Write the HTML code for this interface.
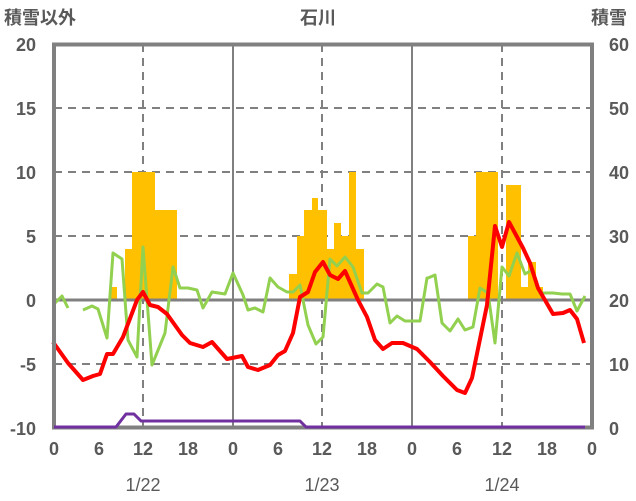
<!DOCTYPE html>
<html><head><meta charset="utf-8"><style>
html,body{margin:0;padding:0;background:#fff;}
svg{display:block;}
text{font-family:"Liberation Sans","Noto Sans CJK JP",sans-serif;fill:#595959;}
</style></head><body>
<svg width="636" height="501" viewBox="0 0 636 501" xmlns="http://www.w3.org/2000/svg">
<g stroke="#808080" stroke-width="2" stroke-dasharray="8,6" fill="none">
<line x1="54" y1="108" x2="592" y2="108"/>
<line x1="54" y1="172" x2="592" y2="172"/>
<line x1="54" y1="236" x2="592" y2="236"/>
<line x1="54" y1="364" x2="592" y2="364"/>
<line x1="143" y1="44" x2="143" y2="428"/>
<line x1="322" y1="44" x2="322" y2="428"/>
<line x1="502" y1="44" x2="502" y2="428"/>
</g>
<g fill="#FFC000">
<rect x="110" y="287" width="7" height="13"/>
<rect x="125" y="249" width="7" height="51"/>
<rect x="132" y="172" width="23" height="128"/>
<rect x="155" y="210" width="22" height="90"/>
<rect x="289" y="274" width="8" height="26"/>
<rect x="297" y="236" width="7" height="64"/>
<rect x="304" y="210" width="8" height="90"/>
<rect x="312" y="198" width="6" height="102"/>
<rect x="318" y="210" width="9" height="90"/>
<rect x="327" y="249" width="7" height="51"/>
<rect x="334" y="223" width="7" height="77"/>
<rect x="341" y="236" width="8" height="64"/>
<rect x="349" y="172" width="7" height="128"/>
<rect x="356" y="249" width="8" height="51"/>
<rect x="468" y="236" width="8" height="64"/>
<rect x="476" y="172" width="22" height="128"/>
<rect x="506" y="185" width="15" height="115"/>
<rect x="521" y="287" width="7" height="13"/>
<rect x="528" y="262" width="8" height="38"/>
<rect x="536" y="287" width="7" height="13"/>
</g>
<g stroke="#808080" fill="none">
<line x1="233" y1="44" x2="233" y2="428" stroke-width="2"/>
<line x1="412" y1="44" x2="412" y2="428" stroke-width="2"/>
<line x1="54" y1="300" x2="592" y2="300" stroke-width="3"/>
</g>
<g stroke="#92D050" stroke-width="3" fill="none" stroke-linejoin="round">
<polyline points="53,305 62,296 68,308"/>
<polyline points="83,310 92,306 98,309 107,338 113,253 122,259 128,340 137,357 143,247 152,365 165,333 173,267 180,288 188,288 197,290 203,308 212,292 225,294 233,273 243,295 248,310 255,308 263,312 270,278 278,287 287,292 293,292 300,285 308,325 316,344 323,337 330,259 337,266 345,257 353,267 362,293 368,293 377,284 383,287 390,323 397,316 405,321 420,321 427,278 428,278 435,275 442,323 450,331 458,319 465,330 473,327 480,288 488,293 495,343 502,267 509,276 517,253 525,274 532,270 540,293 553,293 562,294 570,294 577,311 585,296"/>
</g>
<polyline fill="none" stroke="#FF0000" stroke-width="4" stroke-linejoin="round" points="53,342 68,363 83,380 93,376 100,374 107,354 113,354 123,337 137,300 143,292 150,305 158,307 167,314 182,335 190,343 203,347 212,342 227,359 242,356 248,367 258,370 270,365 278,355 285,351 293,333 300,297 308,292 315,272 323,262 330,275 338,279 345,271 358,300 367,317 375,340 383,349 392,343 403,343 417,349 430,362 443,376 457,390 465,393 472,378 487,305 495,226 502,247 509,222 523,248 530,263 538,288 553,314 563,313 570,310 577,319 584,343"/>
<rect x="54" y="44.5" width="538" height="383" fill="none" stroke="#808080" stroke-width="4"/>
<polyline fill="none" stroke="#7030A0" stroke-width="3" stroke-linejoin="round" points="54,427 116,427 126,414 134,414 141,421 300,421 306,427 585,427"/>
<g font-size="18" font-weight="bold">
<text x="4" y="24">積雪以外</text>
<text x="318" y="24" text-anchor="middle">石川</text>
<text x="591" y="24">積雪</text>
</g>
<g font-size="18" font-weight="bold" text-anchor="end">
<text x="36" y="51">20</text>
<text x="36" y="115">15</text>
<text x="36" y="179">10</text>
<text x="36" y="243">5</text>
<text x="36" y="307">0</text>
<text x="36" y="371">-5</text>
<text x="36" y="435">-10</text>
</g>
<g font-size="18" font-weight="bold">
<text x="609" y="51">60</text>
<text x="609" y="115">50</text>
<text x="609" y="179">40</text>
<text x="609" y="243">30</text>
<text x="609" y="307">20</text>
<text x="609" y="371">10</text>
<text x="609" y="435">0</text>
</g>
<g font-size="18" font-weight="bold" text-anchor="middle">
<text x="54" y="455">0</text>
<text x="99" y="455">6</text>
<text x="143" y="455">12</text>
<text x="188" y="455">18</text>
<text x="233" y="455">0</text>
<text x="278" y="455">6</text>
<text x="322" y="455">12</text>
<text x="367" y="455">18</text>
<text x="412" y="455">0</text>
<text x="457" y="455">6</text>
<text x="502" y="455">12</text>
<text x="547" y="455">18</text>
<text x="592" y="455">0</text>
</g>
<g font-size="18" text-anchor="middle">
<text x="143" y="491">1/22</text>
<text x="322" y="491">1/23</text>
<text x="502" y="491">1/24</text>
</g>
</svg>
</body></html>
